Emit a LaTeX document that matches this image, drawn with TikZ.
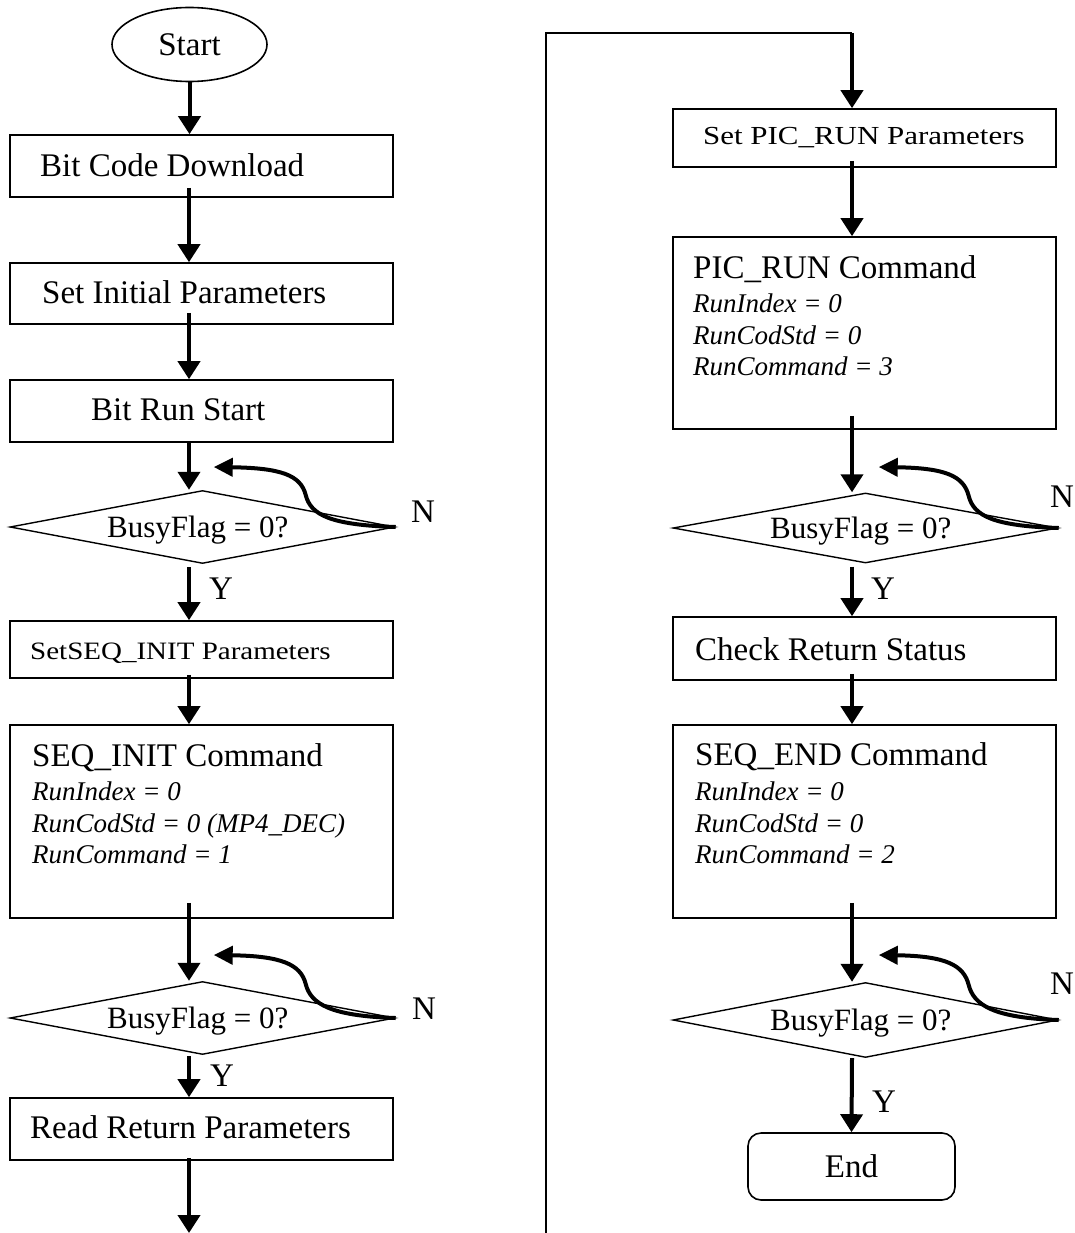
\documentclass[tikz,border=0pt]{standalone}
\usepackage{fontspec}
\usepackage{graphicx}
\setmainfont{Liberation Serif}
\usetikzlibrary{arrows.meta,calc,shapes.geometric}
\begin{document}
\begin{tikzpicture}[x=1pt,y=-1pt,
  box/.style={draw, line width=1.6pt, minimum width=383pt, inner sep=0pt},
  dia/.style={draw, diamond, line width=1.4pt, minimum width=385pt, inner sep=0pt},
  arr/.style={line width=4pt, -{Triangle[width=22pt,length=18pt]}},
  loopln/.style={line width=4pt, -{Triangle[width=18pt,length=19pt]}},
  conn/.style={line width=2pt},
  big/.style={font=\fontsize{33}{40}\selectfont, inner sep=0pt, anchor=base west},
  dtxt/.style={font=\fontsize{31}{38}\selectfont, inner sep=0pt, anchor=base west},
  ital/.style={font=\fontsize{27}{32}\selectfont\itshape, inner sep=0pt, anchor=base west},
  lbl/.style={font=\fontsize{33}{40}\selectfont, inner sep=0pt},
  small/.style={inner sep=0pt, anchor=base west}
]
\useasboundingbox (0,0) rectangle (1075,1233);
\fill[white] (0,0) rectangle (1075,1233);

% ---------- left column shapes ----------
\node[draw, ellipse, line width=1.6pt, minimum width=155pt, minimum height=74pt, inner sep=0pt,
      font=\fontsize{33}{40}\selectfont] (start) at (189.5,44.5) {Start};
\node[box, minimum height=62pt] (b1) at (201.5,166) {};
\node[box, minimum height=61pt] (b2) at (201.5,293.5) {};
\node[box, minimum height=62pt] (b3) at (201.5,411) {};
\node[dia, minimum height=73pt] (d1) at (202.5,527) {};
\node[box, minimum height=57pt] (b4) at (201.5,649.5) {};
\node[box, minimum height=193pt] (b5) at (201.5,821.5) {};
\node[dia, minimum height=73pt] (d2) at (202.5,1018) {};
\node[box, minimum height=62pt] (b6) at (201.5,1129) {};

% ---------- right column shapes ----------
\node[box, minimum height=58pt] (b7) at (864.5,138) {};
\node[box, minimum height=192pt] (b8) at (864.5,333) {};
\node[dia, minimum height=70pt] (d3) at (865.5,528) {};
\node[box, minimum height=63pt] (b9) at (864.5,648.5) {};
\node[box, minimum height=193pt] (b10) at (864.5,821.5) {};
\node[dia, minimum height=75pt] (d4) at (865.5,1020) {};
\node[draw, rounded corners=13pt, line width=1.6pt, minimum width=207pt, minimum height=67pt,
      inner sep=0pt, font=\fontsize{33}{40}\selectfont] (end) at (851.5,1166.5) {End};

% ---------- texts ----------
\node[big] (t1) at (40,177) {Bit Code Download};
\node[big] (t2) at (42,303) {Set Initial Parameters};
\node[big] (t3) at (91,420) {Bit Run Start};
\node[dtxt] (td1) at (107,537) {BusyFlag = 0?};
\node[small] (t4) at (30,659) {\scalebox{1.16}[1]{\fontsize{25}{30}\selectfont SetSEQ\_INIT Parameters}};
\node[big] (t5) at (32,766) {SEQ\_INIT Command};
\node[ital] (t5a) at (32,800) {RunIndex = 0};
\node[ital] (t5b) at (32,832) {RunCodStd = 0 (MP4\_DEC)};
\node[ital] (t5c) at (32,863) {RunCommand = 1};
\node[dtxt] (td2) at (107,1028) {BusyFlag = 0?};
\node[big] (t6) at (30,1138) {Read Return Parameters};

\node[small] (t7) at (703,145) {\scalebox{1.19}[1]{\fontsize{26}{30}\selectfont Set PIC\_RUN Parameters}};
\node[big] (t8) at (693,278) {PIC\_RUN Command};
\node[ital] (t8a) at (693,312) {RunIndex = 0};
\node[ital] (t8b) at (693,344) {RunCodStd = 0};
\node[ital] (t8c) at (693,375) {RunCommand = 3};
\node[dtxt] (td3) at (770,538) {BusyFlag = 0?};
\node[big] (t9) at (695,660) {Check Return Status};
\node[big] (t10) at (695,765) {SEQ\_END Command};
\node[ital] (t10a) at (695,800) {RunIndex = 0};
\node[ital] (t10b) at (695,832) {RunCodStd = 0};
\node[ital] (t10c) at (695,863) {RunCommand = 2};
\node[dtxt] (td4) at (770,1030) {BusyFlag = 0?};

% Y / N labels
\node[lbl] (y1) at (221,589) {Y};
\node[lbl] (n1) at (423,512) {N};
\node[lbl] (y2) at (222,1076) {Y};
\node[lbl] (n2) at (424,1009) {N};
\node[lbl] (y3) at (883,589) {Y};
\node[lbl] (n3) at (1062,497) {N};
\node[lbl] (y4) at (884,1102) {Y};
\node[lbl] (n4) at (1062,984) {N};

% ---------- connectors, left ----------
\draw[arr] (start.south) -- (start.south |- b1.north);
\draw[arr] ($(b1.south)+(-12.5,-10)$) -- ($(b2.north)+(-12.5,0)$);
\draw[arr] ($(b2.south)+(-12.5,-12)$) -- ($(b3.north)+(-12.5,0)$);
\draw[arr] ($(b3.south)+(-12.5,-2)$) -- ($(d1.north)+(-13.5,0)$);
\draw[arr] ($(d1.south)+(-13.5,3)$) -- ($(b4.north)+(-12.5,0)$);
\draw[arr] ($(b4.south)+(-12.5,-4)$) -- ($(b5.north)+(-12.5,0)$);
\draw[arr] ($(b5.south)+(-12.5,-16)$) -- ($(d2.north)+(-13.5,0)$);
\draw[arr] ($(d2.south)+(-13.5,1)$) -- ($(b6.north)+(-12.5,0)$);
\coordinate (outL) at (189,1233);
\draw[arr] ($(b6.south)+(-12.5,-3)$) -- (outL);

% off-page connector to right column
\coordinate (outR) at (546,1233);
\coordinate (topR) at (852,33);
\draw[conn] (outR) |- (topR);
\draw[arr] (topR) -- ($(b7.north)+(-12.5,0)$);

% ---------- connectors, right ----------
\draw[arr] ($(b7.south)+(-12.5,-7)$) -- ($(b8.north)+(-12.5,0)$);
\draw[arr] ($(b8.south)+(-12.5,-14)$) -- ($(d3.north)+(-13.5,0)$);
\draw[arr] ($(d3.south)+(-13.5,3)$) -- ($(b9.north)+(-12.5,0)$);
\draw[arr] ($(b9.south)+(-12.5,-7)$) -- ($(b10.north)+(-12.5,0)$);
\draw[arr] ($(b10.south)+(-12.5,-16)$) -- ($(d4.north)+(-13.5,0)$);
\draw[arr] ($(d4.south)+(-13.5,0)$) -- (end.north);

% ---------- busy loops ----------
\coordinate (k1) at ($(d1.east)+(-182,-60)$);
\coordinate (k2) at ($(d2.east)+(-182,-63)$);
\coordinate (k3) at ($(d3.east)+(-180,-61)$);
\coordinate (k4) at ($(d4.east)+(-180,-65)$);
\draw[loopln] (d1.east) .. controls +(-65,-2) and +(5,20) .. ($(d1.east)+(-90,-32)$)
   .. controls +(-5,-20) and +(67,1) .. (k1);
\draw[loopln] (d2.east) .. controls +(-65,-2) and +(5,20) .. ($(d2.east)+(-90,-34)$)
   .. controls +(-5,-20) and +(67,1) .. (k2);
\draw[loopln] (d3.east) .. controls +(-65,-2) and +(5,20) .. ($(d3.east)+(-90,-32)$)
   .. controls +(-5,-20) and +(67,1) .. (k3);
\draw[loopln] (d4.east) .. controls +(-65,-2) and +(5,20) .. ($(d4.east)+(-90,-35)$)
   .. controls +(-5,-20) and +(67,1) .. (k4);
\end{tikzpicture}
\end{document}
